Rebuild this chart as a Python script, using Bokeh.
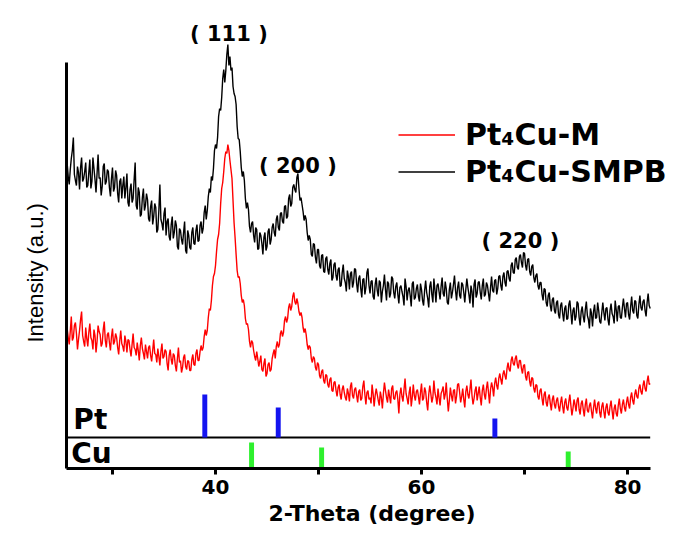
import numpy as np
from bokeh.plotting import figure
from bokeh.models import Range1d, FixedTicker, Legend, LegendItem, Title
from bokeh.core.properties import value
from bokeh.embed import file_html
from bokeh.resources import INLINE

# ---------------- data (intensity in a.u.) ----------------
two_theta_start = 25.6   # degree
two_theta_step = 0.1     # degree

smpb = [
    305, 292, 284, 299, 310, 318, 331, 294, 288, 283, 302, 296, 279, 301, 311, 287, 290, 297, 306, 281,
    283, 296, 309, 280, 287, 311, 300, 289, 276, 295, 314, 290, 291, 273, 282, 302, 305, 284, 287, 299,
    297, 281, 272, 290, 301, 277, 281, 298, 293, 275, 266, 287, 290, 270, 283, 292, 270, 281, 295, 266,
    262, 279, 285, 266, 270, 289, 306, 263, 259, 281, 276, 252, 254, 271, 280, 258, 263, 275, 269, 250,
    247, 262, 268, 244, 252, 265, 261, 236, 239, 258, 284, 249, 245, 238, 255, 261, 233, 247, 250, 232,
    228, 244, 252, 230, 236, 248, 243, 222, 219, 240, 238, 229, 224, 236, 247, 218, 215, 238, 233, 221,
    219, 236, 241, 225, 224, 238, 244, 227, 228, 243, 247, 235, 240, 256, 263, 249, 258, 272, 280, 276,
    292, 288, 300, 318, 324, 320, 331, 352, 360, 358, 371, 390, 399, 386, 398, 414, 424, 403, 412, 398,
    401, 382, 375, 372, 364, 342, 330, 329, 317, 301, 292, 297, 288, 270, 260, 266, 259, 242, 236, 245,
    247, 233, 226, 241, 239, 219, 220, 236, 233, 225, 214, 231, 236, 218, 222, 237, 240, 224, 229, 241,
    245, 236, 232, 249, 253, 241, 238, 255, 256, 247, 245, 262, 263, 250, 252, 270, 274, 262, 265, 281,
    284, 279, 276, 291, 295, 280, 268, 271, 264, 257, 248, 253, 249, 236, 228, 233, 229, 214, 212, 225,
    224, 211, 205, 219, 219, 203, 200, 213, 214, 197, 196, 210, 212, 199, 194, 205, 209, 188, 191, 204,
    206, 193, 188, 199, 201, 182, 183, 196, 204, 190, 186, 177, 198, 192, 179, 195, 197, 181, 186, 200,
    199, 185, 176, 190, 193, 180, 171, 189, 190, 174, 181, 196, 200, 183, 175, 187, 188, 172, 169, 184,
    191, 178, 172, 188, 186, 166, 177, 183, 194, 179, 168, 187, 185, 171, 175, 192, 190, 176, 170, 182,
    186, 174, 165, 181, 183, 177, 172, 163, 190, 182, 168, 178, 181, 173, 162, 185, 187, 169, 171, 180,
    184, 172, 167, 185, 179, 168, 163, 178, 188, 176, 170, 161, 182, 187, 174, 166, 190, 179, 166, 183,
    185, 177, 169, 182, 191, 175, 172, 187, 180, 166, 164, 179, 186, 170, 176, 184, 193, 178, 168, 181,
    187, 173, 170, 186, 184, 176, 166, 179, 190, 181, 174, 165, 183, 177, 161, 184, 189, 171, 175, 186,
    187, 176, 169, 183, 190, 172, 174, 186, 183, 175, 167, 181, 192, 178, 176, 188, 189, 174, 180, 192,
    193, 183, 178, 192, 196, 186, 182, 197, 198, 190, 187, 203, 206, 196, 195, 209, 211, 201, 199, 212,
    214, 206, 201, 216, 215, 203, 198, 209, 210, 197, 193, 202, 204, 191, 186, 193, 195, 183, 179, 186,
    186, 174, 168, 180, 179, 166, 162, 173, 176, 163, 157, 169, 171, 158, 155, 166, 168, 154, 150, 163,
    166, 155, 147, 160, 163, 149, 150, 164, 168, 156, 144, 158, 161, 148, 152, 167, 165, 151, 143, 157,
    162, 152, 146, 159, 167, 153, 149, 140, 160, 155, 142, 157, 164, 150, 151, 166, 158, 147, 145, 156,
    166, 156, 148, 160, 161, 149, 143, 158, 165, 155, 152, 145, 168, 159, 147, 162, 163, 151, 150, 161,
    170, 160, 151, 165, 166, 154, 149, 162, 172, 158, 155, 168, 167, 153, 150, 164, 173, 161, 158, 167,
    169, 158, 152, 166, 175, 163, 160,
]

m_sample = [
    140, 131, 124, 137, 152, 128, 131, 143, 146, 135, 119, 129, 138, 149, 157, 133, 127, 122, 141, 130,
    122, 136, 145, 131, 128, 119, 139, 133, 116, 127, 143, 137, 134, 122, 125, 139, 147, 128, 121, 134,
    136, 126, 118, 132, 140, 124, 127, 135, 131, 121, 114, 128, 138, 125, 122, 117, 133, 127, 116, 129,
    128, 119, 112, 124, 135, 121, 119, 113, 126, 118, 108, 123, 131, 120, 115, 109, 124, 117, 110, 121,
    123, 113, 107, 118, 129, 115, 114, 106, 120, 112, 103, 117, 125, 110, 112, 119, 117, 105, 98, 113,
    119, 109, 104, 115, 113, 103, 97, 110, 121, 106, 108, 96, 101, 111, 114, 102, 99, 108, 107, 98,
    98, 109, 114, 104, 103, 115, 119, 108, 108, 117, 123, 118, 121, 132, 139, 133, 138, 151, 160, 158,
    168, 183, 192, 195, 203, 217, 229, 234, 245, 265, 280, 286, 297, 310, 317, 315, 324, 318, 308, 299,
    290, 268, 246, 231, 214, 198, 191, 192, 185, 173, 166, 169, 163, 150, 144, 145, 139, 127, 121, 128,
    126, 118, 112, 108, 117, 110, 102, 107, 113, 99, 97, 105, 110, 92, 95, 104, 106, 97, 99, 110,
    115, 119, 110, 122, 127, 121, 124, 135, 138, 132, 136, 148, 152, 146, 150, 161, 165, 158, 162, 172,
    176, 167, 164, 170, 165, 157, 153, 156, 151, 141, 136, 140, 134, 124, 119, 123, 121, 110, 106, 112,
    110, 101, 98, 106, 104, 93, 90, 97, 99, 88, 85, 94, 93, 84, 81, 89, 91, 78, 77, 86,
    87, 78, 72, 81, 84, 74, 69, 79, 83, 76, 71, 68, 80, 75, 67, 82, 86, 73, 70, 79,
    81, 73, 66, 77, 79, 68, 70, 82, 88, 74, 64, 76, 78, 69, 71, 65, 84, 75, 62, 73,
    80, 74, 68, 63, 77, 71, 60, 75, 86, 78, 71, 66, 79, 72, 65, 80, 83, 70, 69, 76,
    78, 69, 55, 74, 81, 72, 67, 79, 90, 75, 70, 64, 76, 82, 62, 71, 84, 73, 68, 77,
    79, 72, 64, 76, 85, 68, 70, 81, 77, 66, 58, 74, 83, 75, 66, 71, 88, 76, 71, 64,
    80, 71, 63, 75, 78, 82, 69, 74, 86, 70, 57, 68, 81, 73, 67, 78, 79, 65, 72, 84,
    85, 76, 66, 72, 80, 69, 61, 77, 83, 74, 70, 79, 89, 73, 64, 70, 78, 82, 68, 75,
    82, 71, 63, 78, 84, 74, 69, 80, 87, 76, 65, 79, 86, 81, 72, 85, 91, 83, 79, 90,
    95, 89, 84, 94, 98, 93, 89, 100, 106, 99, 97, 108, 112, 105, 103, 110, 113, 104, 100, 108,
    108, 100, 95, 103, 104, 92, 88, 96, 97, 87, 82, 91, 90, 80, 76, 84, 83, 72, 69, 78,
    80, 70, 63, 74, 77, 66, 62, 71, 74, 65, 58, 69, 73, 64, 60, 68, 71, 62, 57, 66,
    72, 62, 55, 66, 70, 61, 58, 67, 74, 63, 53, 60, 69, 64, 57, 68, 71, 59, 54, 65,
    68, 59, 52, 64, 70, 58, 56, 63, 66, 57, 50, 61, 69, 60, 55, 65, 67, 56, 51, 62,
    66, 57, 50, 61, 65, 56, 53, 62, 68, 58, 49, 60, 64, 55, 52, 63, 70, 60, 55, 64,
    69, 61, 57, 66, 72, 64, 60, 71, 76, 68, 64, 74, 79, 72, 70, 80, 84, 77, 74, 83,
    88, 80, 77, 87, 93, 84, 85,
]

series_names = ["Pt\u2084Cu-M", "Pt\u2084Cu-SMPB"]

# reference patterns (stick positions in degree, stick heights in a.u.)
pt_pos = [38.96, 46.09, 67.12]
pt_int = [43, 30, 19]
cu_pos = [43.5, 50.3, 74.24]
cu_int = [26, 21, 17]
panel_split = 31          # a.u. level separating the Pt and Cu reference panels
ref_names = ["Pt", "Cu"]
ref_label_y = [49, 15]

hkl_text = ["( 111 )", "( 200 )", "( 220 )"]
hkl_pos = [41.3, 48.0, 69.6]
hkl_y = [435, 303, 228]

x_major = [40, 60, 80]
x_minor = [30, 50, 70]

two_theta = np.round(two_theta_start + two_theta_step * np.arange(len(smpb)), 2)

# ---------------- figure ----------------
x_lo, x_hi, x_axis_end = 25.534, 84.85, 82.23
p = figure(width=677, height=540, output_backend="svg", toolbar_location=None,
           x_range=Range1d(x_lo, x_hi), y_range=Range1d(0, 468),
           min_border_left=66, min_border_right=0, min_border_top=0, min_border_bottom=72,
           background_fill_color="white", border_fill_color="white")
p.outline_line_color = None
p.grid.visible = False

# x axis
xa = p.xaxis[0]
xa.ticker = FixedTicker(ticks=x_major, minor_ticks=x_minor)
xa.bounds = (x_lo, x_axis_end)
xa.axis_line_width = 3
xa.axis_line_color = "black"
xa.major_tick_line_width = 3
xa.minor_tick_line_width = 3
xa.major_tick_out = 6
xa.major_tick_in = 0
xa.minor_tick_out = 6
xa.minor_tick_in = 0
xa.major_label_standoff = 5
xa.major_label_text_font = "DejaVu Sans"
xa.major_label_text_font_style = "bold"
xa.major_label_text_font_size = "20px"
xa.major_label_text_color = "black"
xa.axis_label = "2-Theta (degree)"
xa.axis_label_standoff = 4
xa.axis_label_text_font = "DejaVu Sans"
xa.axis_label_text_font_style = "bold"
xa.axis_label_text_font_size = "22px"
xa.axis_label_text_color = "black"

# y axis (spine only)
ya = p.yaxis[0]
ya.ticker = FixedTicker(ticks=[])
ya.bounds = (0, 406)
ya.axis_line_width = 3
ya.axis_line_color = "black"
ya.major_tick_out = 0
ya.major_tick_in = 0
ya.major_tick_line_color = None
ya.minor_tick_out = 0
ya.minor_tick_in = 0
ya.minor_tick_line_color = None
ya.major_label_text_font_size = "0px"

ytitle = Title(text="Intensity (a.u.)", align="left", offset=126,
               text_font="Liberation Sans", text_font_size="22px",
               text_font_style="normal", text_color="black")
if "standoff" in Title.properties():
    ytitle.standoff = 38
p.add_layout(ytitle, "left")

# traces
r_black = p.line(two_theta, smpb, line_color="black", line_width=1.4)
r_red = p.line(two_theta, m_sample, line_color="#ff0000", line_width=1.4)

# reference panel separator
p.line([two_theta[0], two_theta[-1]], [panel_split, panel_split], line_color="black", line_width=2)

# reference sticks
p.vbar(x=pt_pos, width=0.48, bottom=panel_split, top=[panel_split + v for v in pt_int],
       fill_color="#1414f0", line_color=None)
p.vbar(x=cu_pos, width=0.48, bottom=0, top=cu_int, fill_color="#2ef02e", line_color=None)

# reference labels
p.text(x=[26.2, 26.0], y=ref_label_y, text=ref_names, text_font=value("DejaVu Sans"),
       text_font_style="bold", text_font_size="28px", text_align="left",
       text_baseline="middle", text_color="black")

# hkl labels
p.text(x=hkl_pos, y=hkl_y, text=hkl_text, text_font=value("DejaVu Sans"),
       text_font_style="bold", text_font_size="21px", text_align="center",
       text_baseline="middle", text_color="black")

legend = Legend(items=[LegendItem(label=series_names[0], renderers=[r_red]),
                       LegendItem(label=series_names[1], renderers=[r_black])],
                location=(332, 279), orientation="vertical",
                glyph_width=57, glyph_height=35, label_height=35, label_standoff=10,
                spacing=2, padding=0, margin=0,
                border_line_alpha=0, background_fill_alpha=0,
                label_text_font="DejaVu Sans", label_text_font_style="bold",
                label_text_font_size="30px", label_text_color="black")
p.add_layout(legend)

open("out.html", "w").write(file_html(p, INLINE))
